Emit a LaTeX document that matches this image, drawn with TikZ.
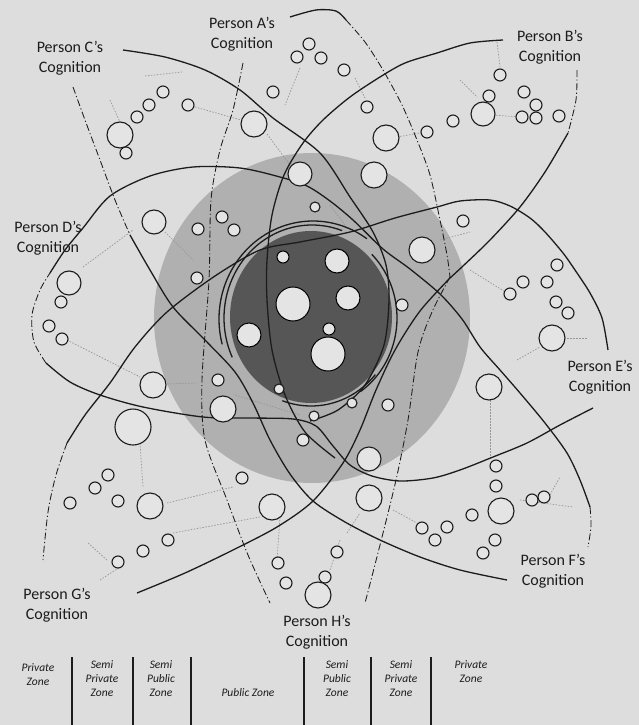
\documentclass[tikz,border=0pt]{standalone}
\usepackage{fontspec}
\setmainfont{Carlito}
\definecolor{bgc}{RGB}{221,221,221}
\definecolor{midc}{RGB}{176,176,176}
\definecolor{corec}{RGB}{86,86,86}
\definecolor{inkc}{RGB}{28,28,28}
\definecolor{cfill}{RGB}{228,228,228}
\definecolor{spokec}{RGB}{150,150,150}
\tikzset{
  lobe/.style={draw=inkc, line width=1.3pt, line join=round},
  dd/.style={draw=inkc, line width=0.85pt, dash pattern=on 7pt off 2.5pt on 1.2pt off 2.5pt},
  spoke/.style={draw=spokec, line width=0.7pt, dash pattern=on 1.5pt off 1.5pt},
  circ/.style={draw=inkc, line width=1.1pt, fill=cfill},
  ccirc/.style={draw=black, line width=1pt, fill=cfill},
  plabel/.style={font=\fontsize{16}{20.5}\selectfont, align=center, text=inkc, inner sep=0pt},
  zlabel/.style={font=\itshape\fontsize{11.5}{14}\selectfont, align=center, text=inkc, inner sep=0pt},
  zsep/.style={draw=inkc, line width=1.3pt}
}
\begin{document}
\begin{tikzpicture}[x=1pt,y=-1pt]
\useasboundingbox (0,0) rectangle (639,725);
\fill[bgc] (0,0) rectangle (639,725);
% zones
\fill[midc] (312,318) ellipse[x radius=158pt, y radius=165pt];
\fill[corec] (311,317) ellipse[x radius=81pt, y radius=86pt];

% spokes
\foreach \a/\b/\c/\d in {
 110/100/120/122, 145/76/182/72, 195/107/241/120, 267/134/290/165,
 300/68/285/105, 355/78/365/98, 460/80/477/97, 497/42/500/67,
 493/115/520/117, 397/137/420/133, 470/270/507/293, 567/338/587/338,
 517/360/540/347, 490/400/490/460, 83/267/133/230, 67/340/140/377,
 167/384/197/383, 165/232/193/260, 140/443/143/487, 167/503/233/487,
 88/543/107/560, 100/580/120/567, 173/533/260/517, 280/517/277/560,
 330/570/340/540, 347/533/360/513, 393/510/417/523, 520/500/573/507,
 547/500/560/477, 235/395/300/415, 330/205/345/225, 440/240/470/232}
 \draw[spoke] (\a,\b) -- (\c,\d);

% arcs hugging the core
\draw[lobe] plot[smooth, domain=205:70, samples=40, variable=\t] ({312+88*cos(\t)},{318-93*sin(\t)});
\draw[lobe] plot[smooth, domain=195:55, samples=40, variable=\t] ({313+94*cos(\t)},{319-98*sin(\t)});
\draw[lobe] plot[smooth, domain=45:-55, samples=30, variable=\t] ({311+86*cos(\t)},{318-90*sin(\t)});
\draw[lobe] plot[smooth, domain=250:320, samples=20, variable=\t] ({311+84*cos(\t)},{318-88*sin(\t)});

% A / H dash-dot lines
\draw[dd] plot[smooth] coordinates {(243,63) (233,110) (220,150) (211,200) (209,280) (202,380) (205,440) (227,500) (248,555) (270,603)};
\draw[lobe] plot[smooth] coordinates {(290,17) (316,10) (336,11) (346,20)};
\draw[dd] plot[smooth] coordinates {(346,20) (365,42) (383,70) (402,105) (417,140) (430,175) (440,220) (447,255) (450,277)};
\draw[dd] plot[smooth] coordinates {(450,277) (432,312) (418,352) (408,420) (396,480) (380,545) (365,603)};

% C upper
\draw[lobe] plot[smooth] coordinates {(123,50) (165,57) (205,70) (240,90) (273,118) (320,153) (350,197) (373,232) (386,265) (389,300) (384,345) (365,385) (338,410) (310,421)};
% B left
\draw[lobe] plot[smooth] coordinates {(503,40) (470,43) (437,53) (405,63) (380,77) (350,97) (323,120) (303,143) (284,175) (272,215) (267,260) (267,300) (272,350) (285,395) (305,432) (335,458)};
% E upper -> G upper
\draw[lobe] plot[smooth] coordinates {(608,350) (602,318) (590,293) (575,270) (563,253) (545,232) (530,218) (510,206) (490,200) (460,201) (437,207) (395,218) (350,232) (300,242) (260,250) (215,276) (167,312) (135,347) (110,383) (85,415) (67,443)};
\draw[dd] plot[smooth] coordinates {(67,443) (56,475) (48,512) (43,560)};
% D upper -> F right
\draw[dd] plot[smooth] coordinates {(46,363) (34,342) (32,315) (40,290) (50,273)};
\draw[lobe] plot[smooth] coordinates {(50,273) (65,250) (83,228) (110,196) (150,176) (193,167) (240,168) (280,177) (307,186) (330,201) (353,220) (383,249) (410,269) (440,294) (462,319) (480,347) (500,370) (520,393) (545,423) (567,453) (580,480) (590,507)};
\draw[dd] plot[smooth] coordinates {(590,507) (591,526) (588,547)};
% D lower -> E lower
\draw[lobe] plot[smooth] coordinates {(46,363) (70,382) (100,395) (143,407) (203,417) (250,418) (293,419) (316,426) (333,446) (350,465) (372,476) (400,481) (433,478) (460,470) (493,457) (527,443) (560,425) (593,408)};
% C lower -> F lower
\draw[dd] plot[smooth] coordinates {(73,87) (85,120) (100,160) (115,200) (130,235)};
\draw[lobe] plot[smooth] coordinates {(130,235) (150,270) (173,307) (205,340) (235,372) (253,403) (270,440) (290,474) (313,501) (345,522) (380,540) (420,557) (460,570) (507,580)};
% B right -> G lower
\draw[dd] plot[smooth] coordinates {(577,70) (576,100) (568,133)};
\draw[lobe] plot[smooth] coordinates {(568,133) (545,172) (520,207) (490,240) (463,266) (450,278)};
\draw[lobe] plot[smooth] coordinates {(450,278) (420,311) (395,350) (376,390) (360,430) (343,463) (313,501) (277,527) (233,550) (185,573) (137,593)};

% cognition circles
\foreach \x/\y/\r in {
 120/135/13, 126/153/6, 137/117/6, 149/105/6, 163/92/6, 188/105/6, 254/124/13, 273/92/6,
 309/44/6, 297/57/6, 321/58/6, 344/70/6, 367/107/6, 300/174/12, 315/207/5, 386/138/13, 374/175/13,
 500/75/6, 524/92/6, 489/96/6, 483/114/12, 536/105/6, 522/117/6, 536/118/6, 559/116/6, 453/121/6, 427/132/6,
 463/221/6, 422/250/13, 557/265/6, 523/282/6, 547/282/6, 510/294/6, 556/302/6, 568/313/6, 552/338/13, 489/387/13, 402/305/6,
 154/222/12, 198/229/6, 222/217/6, 234/230/6, 197/278/6, 69/283/12, 61/302/6, 49/326/6, 62/339/6,
 153/385/13, 218/380/6, 223/409/13, 133/427/18, 303/440/6, 108/475/6, 95/488/6, 70/503/6, 118/501/6, 150/506/13,
 242/478/6, 272/507/13, 168/540/6, 143/551/6, 118/562/6,
 278/563/6, 286/583/6, 337/552/6, 325/577/6, 318/595/13, 369/459/12, 369/498/13,
 496/466/6, 496/486/6, 501/511/13, 472/515/6, 447/527/6, 422/528/6, 435/540/6, 495/540/6, 483/553/6, 532/500/6, 544/497/6,
 352/403/5, 388/405/6, 314/416/5, 279/389/5}
 \draw[circ] (\x,\y) circle[radius=\r pt];
% core circles
\foreach \x/\y/\r in {283/257/6, 337/261/12, 293/304/17, 348/298/12, 249/335/12, 329/329/6, 328/354/17}
 \draw[ccirc] (\x,\y) circle[radius=\r pt];

% person labels
\node[plabel] (la) at (242,34) {Person A's\\Cognition};
\node[plabel] (lb) at (550,47) {Person B's\\Cognition};
\node[plabel] (lc) at (70,58) {Person C's\\Cognition};
\node[plabel] (ld) at (48,238) {Person D's\\Cognition};
\node[plabel] (le) at (600,377) {Person E's\\Cognition};
\node[plabel] (lf) at (553,571) {Person F's\\Cognition};
\node[plabel] (lg) at (57,605) {Person G's\\Cognition};
\node[plabel] (lh) at (317,632) {Person H's\\Cognition};

% zone table
\foreach \x in {72,133,191,304,371,431}
 \draw[zsep] (\x,657) -- (\x,725);
\node[zlabel] (z1) at (38,675) {Private\\Zone};
\node[zlabel] (z2) at (102,679) {Semi\\Private\\Zone};
\node[zlabel] (z3) at (161,679) {Semi\\Public\\Zone};
\node[zlabel] (z4) at (248,693) {Public Zone};
\node[zlabel] (z5) at (337,679) {Semi\\Public\\Zone};
\node[zlabel] (z6) at (401,679) {Semi\\Private\\Zone};
\node[zlabel] (z7) at (471,672) {Private\\Zone};
\end{tikzpicture}
\end{document}
